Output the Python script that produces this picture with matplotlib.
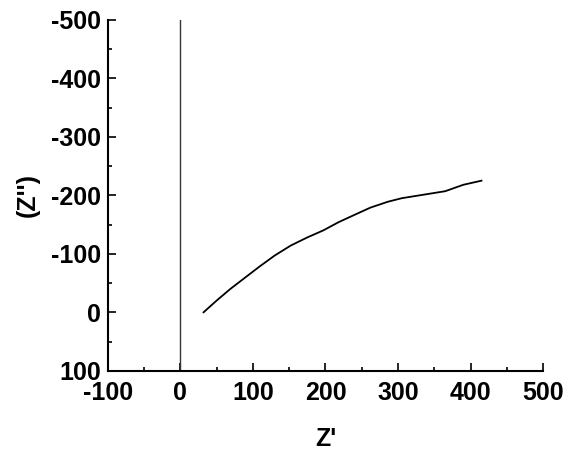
import numpy as np
import matplotlib.pyplot as plt
from matplotlib.ticker import MultipleLocator

plt.rcParams['font.family'] = ['Liberation Sans', 'DejaVu Sans']
plt.rcParams['font.weight'] = 'bold'
plt.rcParams['axes.unicode_minus'] = False

# Nyquist data
z_real = [32, 50, 69, 90, 110, 130, 152, 175, 197, 218, 239, 262, 286, 305, 325, 345, 365, 390, 415]
z_imag = [0, -20, -40, -60, -79, -97, -114, -128, -140, -154, -166, -179, -189, -195, -199, -203, -207, -218, -225]

fig = plt.figure(figsize=(5.67, 4.5), dpi=100)
ax = fig.add_axes([0.190, 0.176, 0.768, 0.780])

ax.plot(z_real, z_imag, color='black', lw=1.3)
ax.axvline(0, color='#333333', lw=1)

ax.set_xlim(-100, 500)
ax.set_ylim(100, -500)
ax.xaxis.set_major_locator(MultipleLocator(100))
ax.xaxis.set_minor_locator(MultipleLocator(50))
ax.yaxis.set_major_locator(MultipleLocator(100))
ax.yaxis.set_minor_locator(MultipleLocator(50))

ax.spines['top'].set_visible(False)
ax.spines['right'].set_visible(False)
for s in ['left', 'bottom']:
    ax.spines[s].set_linewidth(1.5)

ax.tick_params(which='major', direction='in', length=6, width=1.2, labelsize=18)
ax.tick_params(which='minor', direction='in', length=3, width=1.2)
ax.tick_params(axis='x', pad=7)
ax.tick_params(axis='y', pad=5)
for lab in ax.get_xticklabels() + ax.get_yticklabels():
    lab.set_fontweight('bold')

ax.set_xlabel("Z'", fontsize=18, fontweight='bold', labelpad=16)
ax.set_ylabel("(Z'')", fontsize=18, fontweight='bold', labelpad=8)

fig.savefig('out.png', dpi=100)
